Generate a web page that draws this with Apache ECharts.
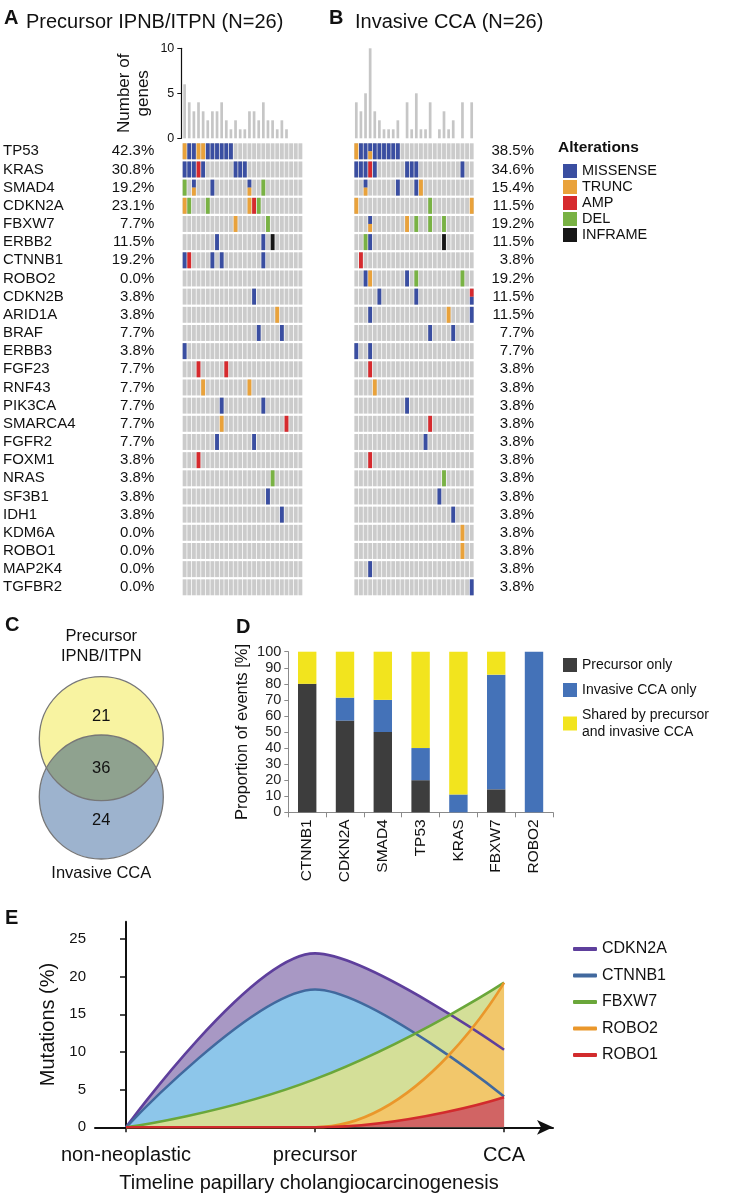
<!DOCTYPE html>
<html><head><meta charset="utf-8">
<script src="https://cdn.jsdelivr.net/npm/echarts@6.0.0/dist/echarts.min.js"></script>
<style>html,body{margin:0;padding:0;background:#fff}#c{width:748px;height:1196px}</style>
</head><body><div id="c"></div>
<script>
const FONT = '"Liberation Sans", Arial, Helvetica, sans-serif';

// ---------- Panel A/B data ----------
const genes = ['TP53','KRAS','SMAD4','CDKN2A','FBXW7','ERBB2','CTNNB1','ROBO2','CDKN2B','ARID1A','BRAF','ERBB3','FGF23','RNF43','PIK3CA','SMARCA4','FGFR2','FOXM1','NRAS','SF3B1','IDH1','KDM6A','ROBO1','MAP2K4','TGFBR2'];
const samples = ['S1','S2','S3','S4','S5','S6','S7','S8','S9','S10','S11','S12','S13','S14','S15','S16','S17','S18','S19','S20','S21','S22','S23','S24','S25','S26'];
const precursorPct = [42.3,30.8,19.2,23.1,7.7,11.5,19.2,0.0,3.8,3.8,7.7,3.8,7.7,7.7,7.7,7.7,7.7,3.8,3.8,3.8,3.8,0.0,0.0,0.0,0.0];
const invasivePct  = [38.5,34.6,15.4,11.5,19.2,11.5,3.8,19.2,11.5,11.5,7.7,7.7,3.8,3.8,3.8,3.8,3.8,3.8,3.8,3.8,3.8,3.8,3.8,3.8,3.8];
const precursorCounts = [6,4,3,4,3,2,3,3,4,2,1,2,1,1,3,3,2,4,2,2,1,2,1,0,0,0];
const invasiveCounts  = [4,3,5,10,3,2,1,1,1,2,0,4,1,5,1,1,4,0,1,3,1,2,0,4,0,4];

const alterationTypes  = ['MISSENSE','TRUNC','AMP','DEL','INFRAME'];
const alterationCodes  = ['M','T','A','D','I'];
const alterationColors = ['#3a4ea1','#e9a23b','#d62a2e','#79b244','#161616'];

// [gene, sample column, alteration code]
const precursorEvents = [
  ['TP53',0,'T'],['TP53',1,'M'],['TP53',2,'M'],['TP53',3,'T'],['TP53',4,'T'],['TP53',5,'M'],['TP53',6,'M'],['TP53',7,'M'],['TP53',8,'M'],['TP53',9,'M'],['TP53',10,'M'],
  ['KRAS',0,'M'],['KRAS',1,'M'],['KRAS',2,'M'],['KRAS',3,'A'],['KRAS',4,'M'],['KRAS',11,'M'],['KRAS',12,'M'],['KRAS',13,'M'],
  ['SMAD4',0,'D'],['SMAD4',2,'M'],['SMAD4',2,'T'],['SMAD4',6,'M'],['SMAD4',14,'M'],['SMAD4',14,'T'],['SMAD4',17,'D'],
  ['CDKN2A',0,'T'],['CDKN2A',1,'D'],['CDKN2A',5,'D'],['CDKN2A',14,'T'],['CDKN2A',15,'A'],['CDKN2A',16,'D'],
  ['FBXW7',11,'T'],['FBXW7',18,'D'],
  ['ERBB2',7,'M'],['ERBB2',17,'M'],['ERBB2',19,'I'],
  ['CTNNB1',0,'M'],['CTNNB1',1,'A'],['CTNNB1',6,'M'],['CTNNB1',8,'M'],['CTNNB1',17,'M'],
  ['CDKN2B',15,'M'],
  ['ARID1A',20,'T'],
  ['BRAF',16,'M'],['BRAF',21,'M'],
  ['ERBB3',0,'M'],
  ['FGF23',3,'A'],['FGF23',9,'A'],
  ['RNF43',4,'T'],['RNF43',14,'T'],
  ['PIK3CA',8,'M'],['PIK3CA',17,'M'],
  ['SMARCA4',8,'T'],['SMARCA4',22,'A'],
  ['FGFR2',7,'M'],['FGFR2',15,'M'],
  ['FOXM1',3,'A'],
  ['NRAS',19,'D'],
  ['SF3B1',18,'M'],
  ['IDH1',21,'M']
];
const invasiveEvents = [
  ['TP53',0,'T'],['TP53',1,'M'],['TP53',2,'M'],['TP53',3,'M'],['TP53',3,'T'],['TP53',4,'M'],['TP53',5,'M'],['TP53',6,'M'],['TP53',7,'M'],['TP53',8,'M'],['TP53',9,'M'],
  ['KRAS',0,'M'],['KRAS',1,'M'],['KRAS',2,'M'],['KRAS',3,'A'],['KRAS',4,'M'],['KRAS',11,'M'],['KRAS',12,'M'],['KRAS',13,'M'],['KRAS',23,'M'],
  ['SMAD4',2,'M'],['SMAD4',2,'T'],['SMAD4',9,'M'],['SMAD4',13,'M'],['SMAD4',14,'T'],
  ['CDKN2A',0,'T'],['CDKN2A',16,'D'],['CDKN2A',25,'T'],
  ['FBXW7',3,'M'],['FBXW7',3,'T'],['FBXW7',11,'T'],['FBXW7',13,'D'],['FBXW7',16,'D'],['FBXW7',19,'D'],
  ['ERBB2',2,'D'],['ERBB2',3,'M'],['ERBB2',19,'I'],
  ['CTNNB1',1,'A'],
  ['ROBO2',2,'M'],['ROBO2',3,'T'],['ROBO2',11,'M'],['ROBO2',13,'D'],['ROBO2',23,'D'],
  ['CDKN2B',5,'M'],['CDKN2B',13,'M'],['CDKN2B',25,'A'],['CDKN2B',25,'M'],
  ['ARID1A',3,'M'],['ARID1A',20,'T'],['ARID1A',25,'M'],
  ['BRAF',16,'M'],['BRAF',21,'M'],
  ['ERBB3',0,'M'],['ERBB3',3,'M'],
  ['FGF23',3,'A'],
  ['RNF43',4,'T'],
  ['PIK3CA',11,'M'],
  ['SMARCA4',16,'A'],
  ['FGFR2',15,'M'],
  ['FOXM1',3,'A'],
  ['NRAS',19,'D'],
  ['SF3B1',18,'M'],
  ['IDH1',21,'M'],
  ['KDM6A',23,'T'],
  ['ROBO1',23,'T'],
  ['MAP2K4',3,'M'],
  ['TGFBR2',25,'M']
];

// ---------- Panel C data ----------
const vennCounts = [21, 36, 24]; // precursor only, shared, invasive only

// ---------- Panel D data ----------
const dGenes = ['CTNNB1','CDKN2A','SMAD4','TP53','KRAS','FBXW7','ROBO2'];
const precursorOnly = [80, 57.1, 50, 20, 0, 14.3, 0];
const invasiveOnly  = [0, 14.3, 20, 20, 11.1, 71.4, 100];
const sharedEvents  = [20, 28.6, 30, 60, 88.9, 14.3, 0];

// ---------- Panel E data ----------
const stages = ['non-neoplastic','precursor','CCA'];
const eGenes = ['CDKN2A','CTNNB1','FBXW7','ROBO2','ROBO1'];
const cdkn2aTrend = [0, 23.1, 10.3];
const ctnnb1Trend = [0, 18.3, 4.1];
const fbxw7Trend  = [0, 6.4, 19.2];
const robo2Trend  = [0, 0, 19.2];
const robo1Trend  = [0, 0, 4.0];
const eTicks = [0, 5, 10, 15, 20, 25];

// ---------- helpers ----------
function buildCells(events) {
  const byCell = {};
  const order = [];
  events.forEach(function (e) {
    const k = e[0] + '|' + e[1];
    if (!byCell[k]) { byCell[k] = []; order.push(k); }
    byCell[k].push(e[2]);
  });
  const out = alterationCodes.map(function () { return []; });
  order.forEach(function (k) {
    const parts = k.split('|');
    const types = byCell[k];
    types.forEach(function (t, slot) {
      out[alterationCodes.indexOf(t)].push([+parts[1], genes.indexOf(parts[0]), slot, types.length]);
    });
  });
  return out;
}
const bgCells = [];
genes.forEach(function (g, gi) { samples.forEach(function (s, si) { bgCells.push([si, gi, 0, 1]); }); });

function cellRender(params, api) {
  const c = api.coord([api.value(0), api.value(1)]);
  const s = api.size([1, 1]);
  const w = s[0] - 0.75, h = s[1] - 2.2;
  const n = api.value(3), slot = api.value(2);
  const hh = h / n;
  return { type: 'rect', shape: { x: c[0] - w / 2, y: c[1] - h / 2 + slot * hh, width: w, height: hh },
           style: { fill: api.visual('color') } };
}

const precCells = buildCells(precursorEvents);
const invCells = buildCells(invasiveEvents);

const series = [];
// Panel A
series.push({ type: 'bar', xAxisIndex: 0, yAxisIndex: 0, data: precursorCounts, barWidth: 2.7, itemStyle: { color: '#c6c6c6' }, silent: true });
series.push({ type: 'custom', name: 'bgA', xAxisIndex: 1, yAxisIndex: 1, data: bgCells, renderItem: cellRender, itemStyle: { color: '#cbcbcb' }, silent: true });
alterationTypes.forEach(function (t, i) {
  series.push({ type: 'custom', name: t, xAxisIndex: 1, yAxisIndex: 1, data: precCells[i], renderItem: cellRender, itemStyle: { color: alterationColors[i] }, z: 3 });
});
// Panel B
series.push({ type: 'bar', xAxisIndex: 2, yAxisIndex: 3, data: invasiveCounts, barWidth: 2.7, itemStyle: { color: '#c6c6c6' }, silent: true });
series.push({ type: 'custom', name: 'bgB', xAxisIndex: 3, yAxisIndex: 4, data: bgCells, renderItem: cellRender, itemStyle: { color: '#cbcbcb' }, silent: true });
alterationTypes.forEach(function (t, i) {
  series.push({ type: 'custom', name: t, xAxisIndex: 3, yAxisIndex: 4, data: invCells[i], renderItem: cellRender, itemStyle: { color: alterationColors[i] }, z: 3 });
});

// Panel C (Venn) layout
const venn = { cx: 101.3, cyTop: 738.7, cyBottom: 797, r: 62, labelY: [716, 768, 820] };
function vennRender(params, api) {
  const i = params.dataIndex;
  const children = [];
  if (i === 0) {
    const d = venn.cyBottom - venn.cyTop;
    const my = (venn.cyTop + venn.cyBottom) / 2;
    const hw = Math.sqrt(venn.r * venn.r - (d / 2) * (d / 2));
    const lx = venn.cx - hw, rx = venn.cx + hw;
    children.push({ type: 'circle', shape: { cx: venn.cx, cy: venn.cyTop, r: venn.r }, style: { fill: '#f8f3a1', stroke: 'none' } });
    children.push({ type: 'circle', shape: { cx: venn.cx, cy: venn.cyBottom, r: venn.r }, style: { fill: '#9db3ce', stroke: 'none' } });
    children.push({ type: 'path', shape: { pathData: 'M' + lx + ' ' + my + ' A' + venn.r + ' ' + venn.r + ' 0 0 0 ' + rx + ' ' + my + ' A' + venn.r + ' ' + venn.r + ' 0 0 0 ' + lx + ' ' + my + ' Z' }, style: { fill: '#8fa28f', stroke: 'none' } });
    children.push({ type: 'circle', shape: { cx: venn.cx, cy: venn.cyTop, r: venn.r }, style: { fill: 'none', stroke: '#777', lineWidth: 1.3 } });
    children.push({ type: 'circle', shape: { cx: venn.cx, cy: venn.cyBottom, r: venn.r }, style: { fill: 'none', stroke: '#777', lineWidth: 1.3 } });
  }
  children.push({ type: 'text', x: venn.cx, y: venn.labelY[i], style: { text: String(api.value(0)), align: 'center', verticalAlign: 'middle', font: '16.5px ' + FONT, fill: '#111' } });
  return { type: 'group', children: children };
}
series.push({ type: 'custom', name: 'venn', coordinateSystem: 'none', data: vennCounts.map(function (v) { return [v]; }), renderItem: vennRender, silent: true });

// Panel D
const dColors = ['#3d3d3d', '#4472b8', '#f2e41e'];
const dNames = ['Precursor only', 'Invasive CCA only', 'Shared by precursor\nand invasive CCA'];
[precursorOnly, invasiveOnly, sharedEvents].forEach(function (arr, i) {
  series.push({ type: 'bar', name: dNames[i], xAxisIndex: 4, yAxisIndex: 5, stack: 'd', data: arr, barWidth: 18.4, itemStyle: { color: dColors[i] } });
});

// Panel E
const eTrends = [cdkn2aTrend, ctnnb1Trend, fbxw7Trend, robo2Trend, robo1Trend];
const eSmooth = [0.3, 0.3, 0.5, 0.5, 0.5];
const eLineColors = ['#5e3f9c', '#41699e', '#6aa73a', '#ea972b', '#d22b2d'];
const eAreaColors = ['#a898c4', '#8dc6ea', '#d4df98', '#f2c76b', '#d16464'];
function toXY(arr) { return arr.map(function (v, i) { return [i, v]; }); }
eTrends.forEach(function (arr, i) {
  series.push({ type: 'line', name: eGenes[i] + ' area', xAxisIndex: 5, yAxisIndex: 6, data: toXY(arr), smooth: eSmooth[i], symbol: 'none',
    lineStyle: { width: 0 }, areaStyle: { color: eAreaColors[i], opacity: 1 }, itemStyle: { color: eAreaColors[i] }, z: 1, silent: true });
});
eTrends.forEach(function (arr, i) {
  series.push({ type: 'line', name: eGenes[i], xAxisIndex: 5, yAxisIndex: 6, data: toXY(arr), smooth: eSmooth[i], symbol: 'none',
    lineStyle: { width: 2.6, color: eLineColors[i] }, itemStyle: { color: eLineColors[i] }, z: 4 });
});

const oncoTop = 142.2, oncoH = 454.2;
const option = {
  animation: false,
  backgroundColor: '#fff',
  textStyle: { fontFamily: FONT, color: '#111' },
  grid: [
    { left: 182.3, top: 48.3, width: 120.4, height: 90 },   // 0 hist A
    { left: 182.3, top: oncoTop, width: 120.4, height: oncoH }, // 1 onco A
    { left: 354, top: 48.3, width: 120, height: 90 },       // 2 hist B
    { left: 354, top: oncoTop, width: 120, height: oncoH }, // 3 onco B
    { left: 288.3, top: 651.7, width: 264.6, height: 160.6 }, // 4 D
    { left: 95, top: 921.7, width: 458, height: 205.6 }     // 5 E
  ],
  xAxis: [
    { gridIndex: 0, type: 'category', data: samples, show: false },
    { gridIndex: 1, type: 'category', data: samples, show: false },
    { gridIndex: 2, type: 'category', data: samples, show: false },
    { gridIndex: 3, type: 'category', data: samples, show: false },
    { gridIndex: 4, type: 'category', data: dGenes,
      axisLine: { lineStyle: { color: '#8a8a8a', width: 1 } },
      axisTick: { show: true, length: 5, lineStyle: { color: '#8a8a8a' } },
      axisLabel: { rotate: 90, interval: 0, fontSize: 15.5, color: '#111', margin: 7 } },
    { gridIndex: 5, type: 'value', min: -0.164, max: 2.259,
      splitLine: { show: false },
      axisLine: { onZero: false, lineStyle: { color: '#111', width: 2 }, symbol: ['none', 'arrow'], symbolSize: [11, 16] },
      axisTick: { customValues: [0, 1, 2], length: 5, lineStyle: { color: '#111', width: 1.5 } },
      axisLabel: { customValues: [0, 1, 2], formatter: function (v) { return stages[Math.round(v)]; }, fontSize: 20, color: '#111', margin: 18 } }
  ],
  yAxis: [
    { gridIndex: 0, type: 'value', min: 0, max: 10, interval: 5, offset: 1,
      splitLine: { show: false },
      axisLine: { show: true, lineStyle: { color: '#111', width: 1.2 } },
      axisTick: { show: true, length: 4, lineStyle: { color: '#111' } },
      axisLabel: { fontSize: 12.5, color: '#111', margin: 7 },
      name: 'Number of\ngenes', nameLocation: 'middle', nameRotate: 90, nameGap: 28,
      nameTextStyle: { fontSize: 17, lineHeight: 19, color: '#111' } },
    { gridIndex: 1, type: 'category', data: genes, inverse: true, position: 'left',
      axisLine: { show: false }, axisTick: { show: false },
      axisLabel: { interval: 0, align: 'left', margin: 179.3, fontSize: 15, color: '#111' } },
    { gridIndex: 1, type: 'category', data: genes, inverse: true, position: 'left', offset: 0,
      axisLine: { show: false }, axisTick: { show: false },
      axisLabel: { interval: 0, align: 'right', margin: 28, fontSize: 15, color: '#111',
        formatter: function (v, i) { return precursorPct[i].toFixed(1) + '%'; } } },
    { gridIndex: 2, type: 'value', min: 0, max: 10, show: false },
    { gridIndex: 3, type: 'category', data: genes, inverse: true, position: 'right',
      axisLine: { show: false }, axisTick: { show: false },
      axisLabel: { interval: 0, align: 'right', margin: 60, fontSize: 15, color: '#111',
        formatter: function (v, i) { return invasivePct[i].toFixed(1) + '%'; } } },
    { gridIndex: 4, type: 'value', min: 0, max: 100, interval: 10,
      splitLine: { show: false },
      axisLine: { show: true, lineStyle: { color: '#8a8a8a' } },
      axisTick: { show: true, length: 4, lineStyle: { color: '#8a8a8a' } },
      axisLabel: { fontSize: 14.5, color: '#222', margin: 7 },
      name: 'Proportion of events [%]', nameLocation: 'middle', nameRotate: 90, nameGap: 37,
      nameTextStyle: { fontSize: 16.5, color: '#111' } },
    { gridIndex: 5, type: 'value', min: 0, max: 27.3,
      splitLine: { show: false },
      axisLine: { show: true, lineStyle: { color: '#111', width: 2 } },
      axisTick: { show: true, customValues: eTicks, length: 6, lineStyle: { color: '#111', width: 1.5 } },
      axisLabel: { customValues: eTicks, fontSize: 15, color: '#111', margin: 9 },
      name: 'Mutations (%)', nameLocation: 'middle', nameRotate: 90, nameGap: 34,
      nameTextStyle: { fontSize: 20, color: '#111' } }
  ],
  legend: [
    { data: alterationTypes, left: 558, top: 158.5, orient: 'vertical', icon: 'rect', itemWidth: 14, itemHeight: 14, itemGap: 1,
      textStyle: { fontSize: 14.5, lineHeight: 14, color: '#111' }, selectedMode: false },
    { data: dNames, left: 558, top: 651.5, orient: 'vertical', icon: 'rect', itemWidth: 14, itemHeight: 14, itemGap: 8,
      textStyle: { fontSize: 14, lineHeight: 17, color: '#111' }, selectedMode: false },
    { data: eGenes, left: 568, top: 936, orient: 'vertical', icon: 'roundRect', itemWidth: 24, itemHeight: 4, itemGap: 10.5,
      textStyle: { fontSize: 16, color: '#111' }, selectedMode: false }
  ],
  graphic: [
    { type: 'text', x: 4, y: 18, style: { text: 'A', font: 'bold 20px ' + FONT, fill: '#111', verticalAlign: 'middle' } },
    { type: 'text', x: 26, y: 22, style: { text: 'Precursor IPNB/ITPN (N=26)', font: '20px ' + FONT, fill: '#111', verticalAlign: 'middle' } },
    { type: 'text', x: 329, y: 18, style: { text: 'B', font: 'bold 20px ' + FONT, fill: '#111', verticalAlign: 'middle' } },
    { type: 'text', x: 355, y: 22, style: { text: 'Invasive CCA (N=26)', font: '20px ' + FONT, fill: '#111', verticalAlign: 'middle' } },
    { type: 'text', x: 558, y: 148, style: { text: 'Alterations', font: 'bold 15.5px ' + FONT, fill: '#111', verticalAlign: 'middle' } },
    { type: 'text', x: 5, y: 625, style: { text: 'C', font: 'bold 20px ' + FONT, fill: '#111', verticalAlign: 'middle' } },
    { type: 'text', x: 101.3, y: 646, style: { text: 'Precursor\nIPNB/ITPN', font: '16.5px ' + FONT, lineHeight: 20, fill: '#111', align: 'center', verticalAlign: 'middle' } },
    { type: 'text', x: 101.3, y: 873, style: { text: 'Invasive CCA', font: '16.5px ' + FONT, fill: '#111', align: 'center', verticalAlign: 'middle' } },
    { type: 'text', x: 236, y: 627, style: { text: 'D', font: 'bold 20px ' + FONT, fill: '#111', verticalAlign: 'middle' } },
    { type: 'text', x: 5, y: 918, style: { text: 'E', font: 'bold 20px ' + FONT, fill: '#111', verticalAlign: 'middle' } },
    { type: 'text', x: 309, y: 1183, style: { text: 'Timeline papillary cholangiocarcinogenesis', font: '20px ' + FONT, fill: '#111', align: 'center', verticalAlign: 'middle' } }
  ],
  series: series
};

const chart = echarts.init(document.getElementById('c'), null, { renderer: 'canvas', width: 748, height: 1196 });
chart.setOption(option);
</script></body></html>
